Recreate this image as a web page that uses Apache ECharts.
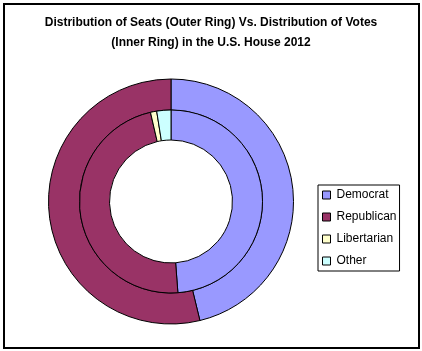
<!DOCTYPE html>
<html>
<head>
<meta charset="utf-8">
<script src="https://cdn.jsdelivr.net/npm/echarts@6/dist/echarts.min.js"></script>
<style>
  html, body { margin: 0; padding: 0; background: #fff; }
  #chart { width: 422px; height: 351px; }
</style>
</head>
<body>
<div id="chart"></div>
<script>
// parties, seat counts (outer ring) and vote shares in % (inner ring)
var parties = ['Democrat', 'Republican', 'Libertarian', 'Other'];
var seats = [201, 234, 0, 0];
var votes = [48.8, 47.6, 1.1, 2.5];
var colors = ['#9999FF', '#993366', '#FFFFCC', '#CCFFFF'];

var chart = echarts.init(document.getElementById('chart'));

function toData(vals) {
    return parties.map(function (p, i) {
        return { name: p, value: vals[i] };
    }).filter(function (d) { return d.value > 0; });
}

var ringStyle = {
    type: 'pie',
    center: [171, 201.5],
    startAngle: 90,
    clockwise: true,
    silent: true,
    label: { show: false },
    labelLine: { show: false },
    itemStyle: { borderColor: '#000', borderWidth: 1 },
    emphasis: { disabled: true },
    animation: false
};

chart.setOption({
    color: colors,
    title: {
        text: 'Distribution of Seats (Outer Ring) Vs. Distribution of Votes\n(Inner Ring) in the U.S. House 2012',
        left: 'center',
        top: 13,
        padding: 0,
        textStyle: {
            fontFamily: 'Liberation Sans',
            fontSize: 12,
            fontWeight: 'bold',
            color: '#000',
            lineHeight: 20
        }
    },
    legend: {
        data: parties,
        orient: 'vertical',
        left: 318,
        top: 185,
        padding: [4, 3, 4, 4],
        itemGap: 10,
        itemWidth: 8,
        itemHeight: 8,
        borderColor: '#000',
        borderWidth: 1,
        icon: 'rect',
        itemStyle: { borderColor: '#000', borderWidth: 1 },
        selectedMode: false,
        textStyle: {
            fontFamily: 'Liberation Sans',
            fontSize: 12,
            color: '#000',
            padding: [0, 0, 0, 1]
        }
    },
    graphic: [{
        type: 'rect',
        shape: { x: 4, y: 4, width: 415, height: 344 },
        style: { fill: null, stroke: '#000', lineWidth: 2 },
        silent: true
    }],
    series: [
        Object.assign({}, ringStyle, {
            name: 'Seats',
            radius: [91.5, 122.5],
            data: toData(seats)
        }),
        Object.assign({}, ringStyle, {
            name: 'Votes',
            radius: [61.5, 91.5],
            data: toData(votes)
        })
    ]
});
</script>
</body>
</html>
